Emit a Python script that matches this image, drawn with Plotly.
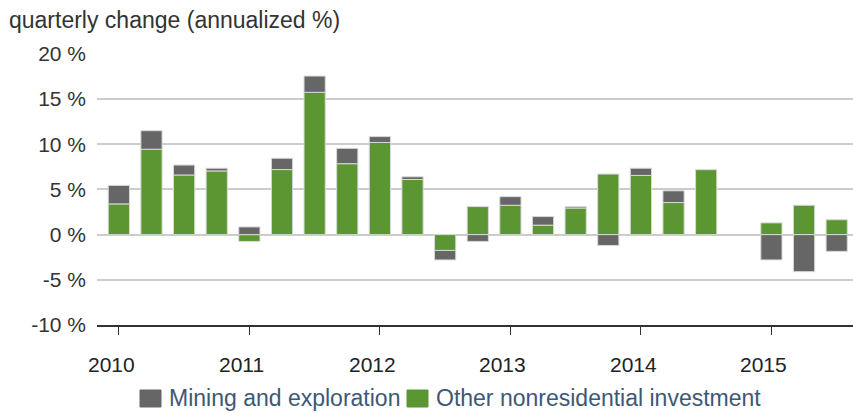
import plotly.graph_objects as go

quarters = [f"{y}Q{q}" for y in range(2010, 2016) for q in range(1, 5)][:23]
other_nonres = [3.4, 9.45, 6.6, 7.05, -0.75, 7.2, 15.75, 7.85, 10.2, 6.1, -1.75, 3.1,
                3.25, 1.05, 2.95, 6.7, 6.55, 3.55, 7.2, None, 1.3, 3.25, 1.65]
mining = [2.05, 2.05, 1.1, 0.3, 0.85, 1.25, 1.8, 1.7, 0.65, 0.3, -1.05, -0.75,
          0.95, 0.95, 0.15, -1.2, 0.8, 1.3, 0.0, None, -2.8, -4.1, -1.85]
year_labels = ["2010", "2011", "2012", "2013", "2014", "2015"]
year_pos = [0, 4, 8, 12, 16, 20]
y_ticks = [-10, -5, 0, 5, 10, 15, 20]
y_tick_text = ["-10 %", "-5 %", "0 %", "5 %", "10 %", "15 %", "20 %"]

GREEN = "#5b9632"
GRAY = "#666666"
TEXT_BLUE = "#3d5877"

W, H = 853, 413
ML, MR, MT, MB = 97, 0, 53, 88
PW, PH = W - ML - MR, H - MT - MB

def px(x):
    return (x - ML) / PW

def py(y):
    return (H - MB - y) / PH

xidx = list(range(len(quarters)))

fig = go.Figure()
fig.add_trace(go.Bar(x=xidx, y=other_nonres, name="Other nonresidential investment",
                     marker=dict(color=GREEN, line=dict(color="#d8d8d8", width=1)),
                     width=0.65, showlegend=False, hovertext=quarters))
fig.add_trace(go.Bar(x=xidx, y=mining, name="Mining and exploration",
                     marker=dict(color=GRAY, line=dict(color="#d8d8d8", width=1)),
                     width=0.65, showlegend=False, hovertext=quarters))

fig.update_layout(
    width=W, height=H, margin=dict(l=ML, r=MR, t=MT, b=MB),
    barmode="relative", plot_bgcolor="white", paper_bgcolor="white",
    font=dict(family="Liberation Sans, Arial, sans-serif", color="#333333"),
    showlegend=False,
)
fig.update_xaxes(
    range=[-0.67, 22.5], tickvals=year_pos, showticklabels=False,
    showgrid=False, zeroline=False, showline=True, linecolor="#333333", linewidth=1.5,
    ticks="outside", ticklen=8, tickcolor="#333333", tickwidth=1,
)
fig.update_yaxes(
    range=[-10, 20.1], tickvals=y_ticks, ticktext=y_tick_text,
    showgrid=True, gridcolor="#cccccc", gridwidth=1.5, zeroline=False,
    ticks="", tickfont=dict(size=21, color="#333333"), ticklabelstandoff=10,
)

# year labels (slightly left of their tick marks, as in the original)
for pos, lab in zip(year_pos, year_labels):
    fig.add_annotation(text=lab, xref="x", yref="paper", x=pos, y=py(364), xshift=-7.5,
                       xanchor="center", yanchor="middle", showarrow=False,
                       font=dict(size=21, color="#222222",
                                 family="Liberation Sans Narrow, Arial Narrow, sans-serif"))

fig.add_annotation(text="quarterly change (annualized %)", xref="paper", yref="paper",
                   x=px(7), y=py(20), xanchor="left", yanchor="middle", showarrow=False,
                   font=dict(size=23, color="#333333"))

legend_items = [("Mining and exploration", GRAY, 140), ("Other nonresidential investment", GREEN, 407)]
for label, col, x0 in legend_items:
    fig.add_shape(type="rect", xref="paper", yref="paper",
                  x0=px(x0), x1=px(x0 + 21), y0=py(407), y1=py(390),
                  fillcolor=col, line=dict(color=col, width=1))
    fig.add_annotation(text=label, xref="paper", yref="paper", x=px(x0 + 27), y=py(398),
                       xanchor="left", yanchor="middle", showarrow=False,
                       font=dict(size=23, color=TEXT_BLUE))

fig.write_html("out.html", config={"displayModeBar": False},
               post_script="document.body.style.margin='0';")
